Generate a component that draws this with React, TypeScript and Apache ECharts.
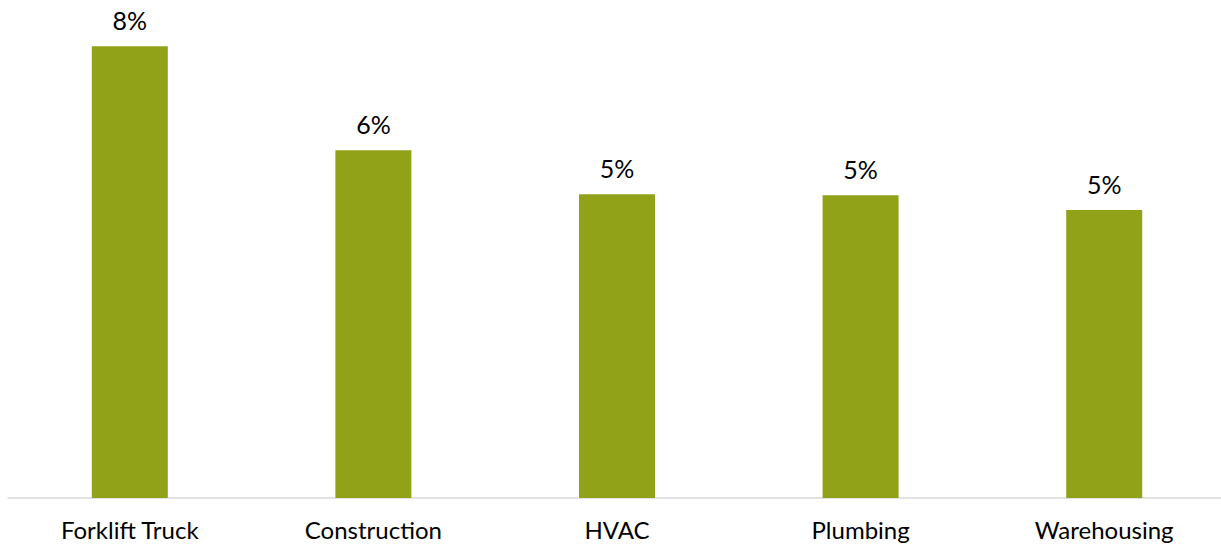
import React, { useEffect, useRef } from "react";
import * as echarts from "echarts";

const categories = ["Forklift Truck", "Construction", "HVAC", "Plumbing", "Warehousing"];
const values = [8.0, 6.16, 5.38, 5.36, 5.1];

export default function App() {
  const ref = useRef<HTMLDivElement>(null);
  useEffect(() => {
    if (!ref.current) return;
    const chart = echarts.init(ref.current, null, { renderer: "svg" });
    chart.setOption({
      animation: false,
      backgroundColor: "#ffffff",
      grid: { left: 8, width: 1218, top: 18, bottom: 50, containLabel: false },
      xAxis: {
        type: "category",
        data: categories,
        axisLine: { show: true, lineStyle: { color: "#d9d9d9", width: 1.5 } },
        axisTick: { show: false },
        axisLabel: {
          color: "#000000",
          fontFamily: "Lato",
          fontSize: 24,
          margin: 19,
        },
      },
      yAxis: {
        type: "value",
        min: 0,
        max: 8.5,
        show: false,
        splitLine: { show: false },
      },
      series: [
        {
          type: "bar",
          data: values,
          barWidth: 76,
          itemStyle: { color: "#91a218" },
          label: {
            show: true,
            position: "top",
            distance: 14,
            color: "#000000",
            fontFamily: "Lato",
            fontSize: 25,
            formatter: (p: any) => Math.round(p.value) + "%",
          },
        },
      ],
    });
    return () => chart.dispose();
  }, []);
  return (
    <div
      ref={ref}
      style={{ position: "fixed", left: 0, top: 0, width: 1232, height: 548 }}
    />
  );
}
